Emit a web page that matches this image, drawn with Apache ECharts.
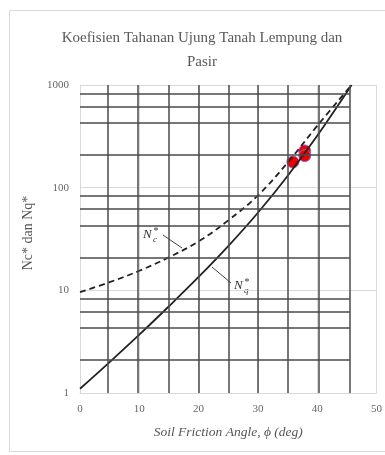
<!DOCTYPE html>
<html>
<head>
<meta charset="utf-8">
<script src="https://cdn.jsdelivr.net/npm/echarts@6/dist/echarts.min.js"></script>
<style>
  html, body { margin: 0; padding: 0; background: #fff; }
  #chart { width: 385px; height: 455px; }
</style>
</head>
<body>
<div id="chart"></div>
<script>
var chart = echarts.init(document.getElementById('chart'));

// curves: [angle, value]
var nqCurve = [[0, 1.1], [5, 2.0], [10, 3.7], [15, 7], [20, 13.5], [25, 27], [30, 57], [35, 130], [40, 320], [45.8, 1000]];
var ncCurve = [[0, 9.6], [5, 12], [10, 15.5], [15, 21], [20, 30], [25, 48], [30, 84], [35, 175], [40, 400], [45.8, 1000]];
// red points
var samples = [[35.9, 178], [37.9, 228], [37.9, 205]];
// dark grid of the scanned chart
var scanX = [4.6, 9.7, 14.9, 20, 25, 30, 35.1, 40.3, 45.5];
var scanY = [2.1, 4.3, 6.2, 8.3, 21, 43, 62, 83, 210, 430, 620, 830];
var xTicks = [0, 10, 20, 30, 40, 50];
var yTicks = [1, 10, 100, 1000];

var serif = '"Liberation Serif", "DejaVu Serif", serif';
var gridLines = [];
scanX.forEach(function (x) {
    gridLines.push([{ coord: [x, 1] }, { coord: [x, 1000] }]);
});
scanY.forEach(function (y) {
    gridLines.push([{ coord: [0, y] }, { coord: [45.5, y] }]);
});

var option = {
    backgroundColor: '#fff',
    animation: false,
    title: {
        text: 'Koefisien Tahanan Ujung Tanah Lempung dan\nPasir',
        left: 197,
        top: 21,
        textAlign: 'center',
        textStyle: { fontFamily: serif, fontSize: 15, fontWeight: 'normal', color: '#595959', lineHeight: 24 }
    },
    grid: { left: 80, right: 8, top: 85, bottom: 62 },
    xAxis: {
        type: 'value',
        min: 0, max: 50, interval: 10,
        name: 'Soil Friction Angle, \u03d5 (deg)',
        nameLocation: 'middle',
        nameGap: 32,
        nameTextStyle: { fontFamily: serif, fontStyle: 'italic', fontSize: 13.5, color: '#555' },
        axisLine: { lineStyle: { color: '#d9d9d9' } },
        axisTick: { show: false },
        axisLabel: { fontFamily: serif, fontSize: 11, color: '#666', margin: 11,
            formatter: function (v) { return xTicks.indexOf(v) >= 0 ? v : ''; } },
        splitLine: { show: true, lineStyle: { color: '#d9d9d9' } }
    },
    yAxis: {
        type: 'log',
        logBase: 10,
        min: 1, max: 1000,
        name: 'Nc* dan Nq*',
        nameLocation: 'middle',
        nameGap: 45,
        nameTextStyle: { fontFamily: serif, fontSize: 14, color: '#555', padding: [0, 0, 0, 12] },
        axisLine: { show: true, lineStyle: { color: '#d9d9d9' } },
        axisTick: { show: false },
        axisLabel: { fontFamily: serif, fontSize: 11, color: '#666', margin: 11,
            formatter: function (v) { return yTicks.indexOf(v) >= 0 ? v : ''; } },
        splitLine: { show: true, lineStyle: { color: '#d9d9d9' } }
    },
    graphic: [
        { type: 'rect', shape: { x: 9.5, y: 10.5, width: 390, height: 441 }, style: { fill: 'none', stroke: '#d9d9d9' }, silent: true },
        { type: 'text', left: 143, top: 228, style: { text: 'N', font: 'italic 13px ' + serif, fill: '#333' } },
        { type: 'text', left: 153, top: 226, style: { text: '*', font: 'italic 10px ' + serif, fill: '#333' } },
        { type: 'text', left: 153, top: 235, style: { text: 'c', font: 'italic 9px ' + serif, fill: '#333' } },
        { type: 'line', shape: { x1: 163, y1: 235, x2: 182, y2: 248 }, style: { stroke: '#444', lineWidth: 1 } },
        { type: 'text', left: 234, top: 279, style: { text: 'N', font: 'italic 13px ' + serif, fill: '#333' } },
        { type: 'text', left: 244, top: 277, style: { text: '*', font: 'italic 10px ' + serif, fill: '#333' } },
        { type: 'text', left: 244, top: 286, style: { text: 'q', font: 'italic 9px ' + serif, fill: '#333' } },
        { type: 'line', shape: { x1: 212, y1: 267, x2: 231, y2: 283 }, style: { stroke: '#444', lineWidth: 1 } }
    ],
    series: [
        {
            name: 'grid',
            type: 'line',
            data: [],
            silent: true,
            markLine: {
                silent: true,
                symbol: 'none',
                label: { show: false },
                lineStyle: { color: '#4a4a4a', width: 1.5, type: 'solid' },
                data: gridLines
            }
        },
        {
            name: 'Nq*',
            type: 'line',
            smooth: 0.4,
            showSymbol: false,
            data: nqCurve,
            lineStyle: { color: '#222', width: 1.8 }
        },
        {
            name: 'Nc*',
            type: 'line',
            smooth: 0.4,
            showSymbol: false,
            data: ncCurve,
            lineStyle: { color: '#222', width: 1.8, type: [6, 4] }
        },
        {
            name: 'data',
            type: 'scatter',
            symbolSize: 12,
            data: samples,
            itemStyle: { color: '#ee0000', borderColor: '#9966cc', borderWidth: 1, opacity: 1 }
        }
    ]
};
chart.setOption(option);
</script>
</body>
</html>
